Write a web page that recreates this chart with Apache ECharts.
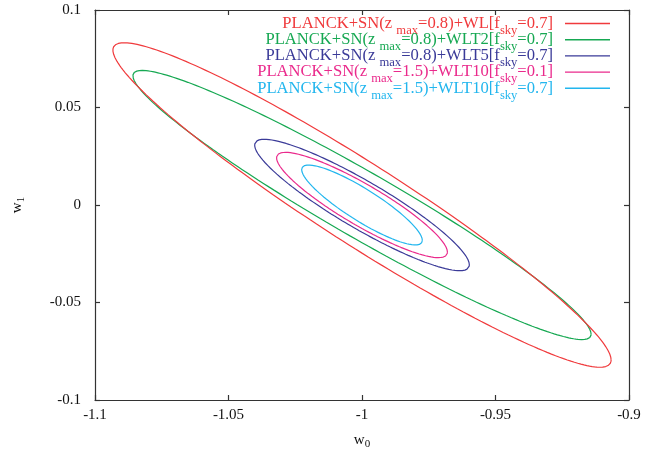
<!DOCTYPE html>
<html>
<head>
<meta charset="utf-8">
<script src="https://cdn.jsdelivr.net/npm/echarts@6/dist/echarts.min.js"></script>
<style>html,body{margin:0;padding:0;background:#fff}#c{width:662px;height:455px}</style>
</head>
<body>
<div id="c"></div>
<script>
// Series (Fisher-ellipse contours)
const seriesNames = [
  'PLANCK+SN(zmax=0.8)+WL[fsky=0.7]',
  'PLANCK+SN(zmax=0.8)+WLT2[fsky=0.7]',
  'PLANCK+SN(zmax=0.8)+WLT5[fsky=0.7]',
  'PLANCK+SN(zmax=1.5)+WLT10[fsky=0.1]',
  'PLANCK+SN(zmax=1.5)+WLT10[fsky=0.7]'
];
const legendParts = [
  ['PLANCK+SN(z ', 'max', '=0.8)+WL[f', 'sky', '=0.7]'],
  ['PLANCK+SN(z ', 'max', '=0.8)+WLT2[f', 'sky', '=0.7]'],
  ['PLANCK+SN(z ', 'max', '=0.8)+WLT5[f', 'sky', '=0.7]'],
  ['PLANCK+SN(z ', 'max', '=1.5)+WLT10[f', 'sky', '=0.1]'],
  ['PLANCK+SN(z ', 'max', '=1.5)+WLT10[f', 'sky', '=0.7]']
];
const colors = ['#f03a3c', '#16a852', '#3a3a98', '#ea2a8c', '#22b6ee'];
const centerW0 = [-1, -1, -1, -1, -1];
const centerW1 = [0, 0, 0, 0, 0];
const sigmaW0 = [0.0933, 0.0858, 0.0402, 0.0320, 0.0226];
const sigmaW1 = [0.0832, 0.0690, 0.0337, 0.0270, 0.0205];
const corr = [-0.955, -0.960, -0.910, -0.895, -0.885];
const xTicks = [-1.1, -1.05, -1, -0.95, -0.9];
const yTicks = [-0.1, -0.05, 0, 0.05, 0.1];

const FONT = 'Liberation Serif';

function ellipse(i) {
  const pts = [];
  const n = 240;
  const s = Math.sqrt(1 - corr[i] * corr[i]);
  for (let k = 0; k <= n; k++) {
    const t = 2 * Math.PI * k / n;
    pts.push([
      centerW0[i] + sigmaW0[i] * Math.cos(t),
      centerW1[i] + sigmaW1[i] * (corr[i] * Math.cos(t) + s * Math.sin(t))
    ]);
  }
  return pts;
}

const fmt = v => String(+(+v).toFixed(3));
const axisLineStyle = { color: '#333', width: 1.2 };
const tickStyle = { show: true, inside: true, length: 5, lineStyle: { color: '#333', width: 1.2 } };

const chart = echarts.init(document.getElementById('c'), null, { renderer: 'canvas' });
chart.setOption({
  animation: false,
  backgroundColor: '#fff',
  grid: { left: 95, right: 33, top: 10, bottom: 55 },
  xAxis: [
    {
      type: 'value', min: xTicks[0], max: xTicks[xTicks.length - 1], interval: 0.05,
      position: 'bottom',
      name: '{a|w}{b|0}', nameLocation: 'middle', nameGap: 30,
      nameTextStyle: { fontFamily: FONT, fontSize: 15, color: '#111',
        rich: { a: { fontFamily: FONT, fontSize: 15, color: '#111' },
                b: { fontFamily: FONT, fontSize: 11, color: '#111', padding: [9, 0, 0, 0] } } },
      axisLine: { show: true, onZero: false, lineStyle: axisLineStyle },
      axisTick: tickStyle,
      axisLabel: { fontFamily: FONT, fontSize: 15, color: '#111', margin: 8, formatter: fmt },
      splitLine: { show: false }
    },
    {
      type: 'value', min: xTicks[0], max: xTicks[xTicks.length - 1], interval: 0.05,
      position: 'top',
      axisLine: { show: true, onZero: false, lineStyle: axisLineStyle },
      axisTick: tickStyle,
      axisLabel: { show: false },
      splitLine: { show: false }
    }
  ],
  yAxis: [
    {
      type: 'value', min: yTicks[0], max: yTicks[yTicks.length - 1], interval: 0.05,
      position: 'left',
      name: '{a|w}{b|1}', nameLocation: 'middle', nameGap: 68,
      nameTextStyle: { fontFamily: FONT, fontSize: 15, color: '#111',
        rich: { a: { fontFamily: FONT, fontSize: 15, color: '#111' },
                b: { fontFamily: FONT, fontSize: 11, color: '#111', padding: [9, 0, 0, 0] } } },
      axisLine: { show: true, onZero: false, lineStyle: axisLineStyle },
      axisTick: tickStyle,
      axisLabel: { fontFamily: FONT, fontSize: 15, color: '#111', margin: 14, formatter: fmt },
      splitLine: { show: false }
    },
    {
      type: 'value', min: yTicks[0], max: yTicks[yTicks.length - 1], interval: 0.05,
      position: 'right',
      axisLine: { show: true, onZero: false, lineStyle: axisLineStyle },
      axisTick: tickStyle,
      axisLabel: { show: false },
      splitLine: { show: false }
    }
  ],
  legend: {
    orient: 'vertical',
    align: 'right',
    right: 52,
    top: 10,
    padding: 0,
    itemGap: -10.8,
    itemWidth: 45,
    itemHeight: 1.4,
    icon: 'rect',
    selectedMode: false,
    data: seriesNames.map((n, i) => ({ name: n, textStyle: { color: colors[i] }, itemStyle: { color: colors[i] } })),
    formatter: function (name) {
      const p = legendParts[seriesNames.indexOf(name)];
      return '{m|' + p[0] + '}{s|' + p[1] + '}{m|' + p[2] + '}{s|' + p[3] + '}{e|' + p[4] + '}';
    },
    textStyle: {
      fontFamily: FONT, fontSize: 16.6,
      rich: {
        m: { fontFamily: FONT, fontSize: 16.6, lineHeight: 16 },
        e: { fontFamily: FONT, fontSize: 16.6, lineHeight: 16, padding: [0, 7, 0, 0] },
        s: { fontFamily: FONT, fontSize: 12.6, lineHeight: 12, padding: [14, 0, 0, 0] }
      }
    }
  },
  series: seriesNames.map((n, i) => ({
    name: n,
    type: 'line',
    xAxisIndex: 0,
    yAxisIndex: 0,
    data: ellipse(i),
    symbol: 'none',
    showSymbol: false,
    smooth: false,
    lineStyle: { color: colors[i], width: 1.2 },
    itemStyle: { color: colors[i] },
    z: 10 - i
  }))
});
</script>
</body>
</html>
